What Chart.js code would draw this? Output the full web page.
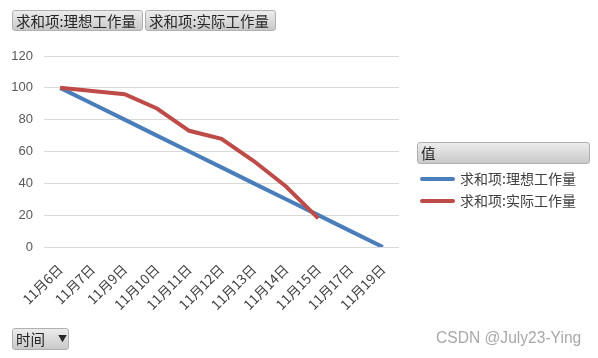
<!DOCTYPE html>
<html><head><meta charset="utf-8">
<script src="https://cdn.jsdelivr.net/npm/chart.js@4"></script>
<style>
html,body{margin:0;padding:0;background:#fff;width:598px;height:358px;overflow:hidden;font-family:"Noto Sans CJK SC","Noto Sans",sans-serif;}
#wrap{position:absolute;left:0;top:0;width:598px;height:358px;}
.btn{position:absolute;box-sizing:border-box;border:1px solid #b0b0b0;border-radius:3px;background:linear-gradient(#ececec,#c9c9c9);color:#262626;font-size:14.5px;line-height:20px;padding-left:3px;white-space:nowrap;}
.leg{position:absolute;font-size:14px;color:#404040;white-space:nowrap;}
.sw{position:absolute;height:4px;border-radius:2px;}
#wm{position:absolute;left:436px;top:329px;font-family:"Liberation Sans",Arial,sans-serif;font-size:15.6px;color:#a8a8a8;}
</style></head>
<body>
<div id="wrap">
<canvas id="c" width="598" height="358"></canvas>
<div class="btn" style="left:12px;top:10px;width:131px;height:21px;">求和项:理想工作量</div>
<div class="btn" style="left:145px;top:10px;width:131px;height:21px;">求和项:实际工作量</div>
<div class="btn" style="left:417px;top:142px;width:173px;height:22px;">值</div>
<div class="sw" style="left:420px;top:177px;width:35px;background:#4a7ebb;"></div>
<div class="leg" style="left:460px;top:168px;">求和项:理想工作量</div>
<div class="sw" style="left:420px;top:199px;width:35px;background:#be4b48;"></div>
<div class="leg" style="left:460px;top:190px;">求和项:实际工作量</div>
<div class="btn" style="left:12px;top:328px;width:57px;height:22px;">时间<span style="position:absolute;left:45px;top:0;font-size:9px;">▼</span></div>
<div id="wm">CSDN @July23-Ying</div>
</div>
<script>
const categories = ["11月6日","11月7日","11月9日","11月10日","11月11日","11月12日","11月13日","11月14日","11月15日","11月17日","11月19日"];
const idealWork = [100, 90, 80, 70, 60, 50, 40, 30, 20, 10, 0];
const actualWork = [100, 98, 96, 87, 73, 68, 54, 38, 18, null, null];
const seriesNames = ["求和项:理想工作量","求和项:实际工作量"];
const yTicks = [0, 20, 40, 60, 80, 100, 120];

new Chart(document.getElementById('c'), {
  type: 'line',
  data: {
    labels: categories,
    datasets: [
      {label: seriesNames[0], data: idealWork, borderColor: '#4a7ebb', backgroundColor: '#4a7ebb', borderWidth: 4, pointRadius: 0, tension: 0, order: 1},
      {label: seriesNames[1], data: actualWork, borderColor: '#be4b48', backgroundColor: '#be4b48', borderWidth: 4, pointRadius: 0, tension: 0, order: 0, spanGaps: false}
    ]
  },
  options: {
    responsive: false,
    animation: false,
    layout: {padding: {left: 0, right: 199, top: 56, bottom: 0}},
    plugins: {legend: {display: false}, tooltip: {enabled: false}},
    scales: {
      x: {
        offset: true,
        grid: {display: false, drawTicks: false},
        border: {display: false},
        ticks: {color: '#404040', font: {family: '"Noto Sans CJK SC"', size: 13.5}, maxRotation: 45, minRotation: 45, padding: 14, autoSkip: false},
        afterFit: (s) => { s.height = 111; }
      },
      y: {
        min: 0, max: 120,
        afterBuildTicks: (s) => { s.ticks = yTicks.map(v => ({value: v})); },
        grid: {color: '#d9d9d9', drawTicks: false, lineWidth: 1},
        border: {display: false},
        ticks: {color: '#595959', font: {family: '"Liberation Sans"', size: 13}, padding: 11},
        afterFit: (s) => { s.width = 44; }
      }
    }
  }
});
</script>
</body></html>
